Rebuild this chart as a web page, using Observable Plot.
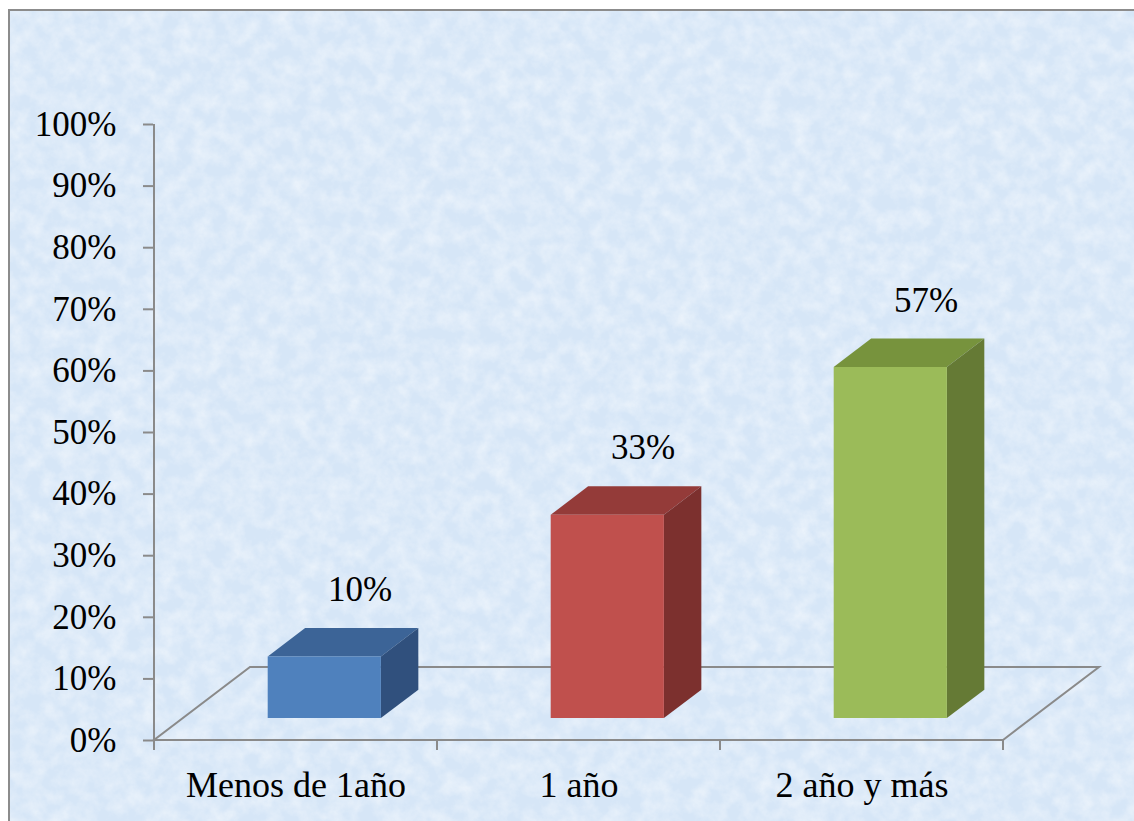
<!DOCTYPE html>
<html>
<head>
<meta charset="utf-8">
<script src="https://cdn.jsdelivr.net/npm/d3@7"></script>
<script src="https://cdn.jsdelivr.net/npm/@observablehq/plot@0.6"></script>
<style>
  html, body { margin: 0; padding: 0; width: 1134px; height: 821px; overflow: hidden; background: #ffffff; }
  #frame { position: absolute; left: 8px; top: 9px; width: 1200px; height: 900px;
           border-left: 2px solid #8c8c8c; border-top: 2px solid #8c8c8c; background: #d8e7f7; overflow: hidden; }
  #bg { position: absolute; left: 0; top: 0; }
  #chart { position: absolute; left: 0; top: 0; }
</style>
</head>
<body>
<div id="frame">
  <svg id="bg" width="1200" height="900">
    <filter id="noise" x="0" y="0" width="100%" height="100%">
      <feTurbulence type="fractalNoise" baseFrequency="0.06" numOctaves="4" seed="7"/>
      <feColorMatrix type="matrix" values="0 0 0 0 1  0 0 0 0 1  0 0 0 0 1  1.4 0 0 0 -0.45"/>
    </filter>
    <rect width="1200" height="900" fill="#d6e6f7"/>
    <rect width="1200" height="900" filter="url(#noise)" opacity="0.6"/>
  </svg>
</div>
<div id="chart"></div>
<script>
// ---- data ----
const categories = ["Menos de 1año", "1 año", "2 año y más"];
const values = [0.10, 0.33, 0.57];
const valueLabels = ["10%", "33%", "57%"];
const yTicks = [0, 0.1, 0.2, 0.3, 0.4, 0.5, 0.6, 0.7, 0.8, 0.9, 1.0];
const frontColors = ["#4f81bd", "#c0504d", "#9bbb59"];
const topColors = ["#3c6497", "#943b39", "#77933d"];
const sideColors = ["#30507d", "#7c302e", "#657a35"];

const data = categories.map((c, i) => ({cat: c, value: values[i], label: valueLabels[i], i}));

// 3D styling constants (pixels / fractions)
const DEPTH = {x: 96, y: -73};
const FRONT = 0.3, BAR_DEPTH = 0.39, BAR_WIDTH = 0.4;
const font = "'Liberation Serif', 'Times New Roman', serif";

function scene(index, scales, vals, dimensions) {
  const x = scales.x, y = scales.y;
  const bw = typeof x.bandwidth === "function" ? x.bandwidth() : x.bandwidth;
  const g = d3.create("svg:g");
  const y0 = y(0);
  const xs = x(categories[0]);
  const xe = x(categories[categories.length - 1]) + bw;
  // floor
  const floor = [[xs, y0], [xe, y0], [xe + DEPTH.x, y0 + DEPTH.y], [xs + DEPTH.x, y0 + DEPTH.y]];
  g.append("path").attr("d", "M" + floor.join("L") + "Z")
    .attr("fill", "none").attr("stroke", "#8a8a8a").attr("stroke-width", 2);
  // y axis line
  g.append("line").attr("x1", xs).attr("x2", xs).attr("y1", y(1)).attr("y2", y0)
    .attr("stroke", "#8a8a8a").attr("stroke-width", 2);
  // x boundary ticks
  for (let k = 0; k <= categories.length; k++) {
    const xx = k < categories.length ? x(categories[k]) : xe;
    g.append("line").attr("x1", xx).attr("x2", xx).attr("y1", y0).attr("y2", y0 + 10)
      .attr("stroke", "#8a8a8a").attr("stroke-width", 2);
  }
  // bars
  const ox = DEPTH.x * BAR_DEPTH, oy = DEPTH.y * BAR_DEPTH;
  data.forEach((d) => {
    const xc = x(d.cat) + bw / 2 + DEPTH.x * FRONT;
    const x1 = xc - bw * BAR_WIDTH / 2, x2 = xc + bw * BAR_WIDTH / 2;
    const yb = y0 + DEPTH.y * FRONT;
    const yt = y(d.value) + DEPTH.y * FRONT;
    const poly = (pts, fill) => g.append("path").attr("d", "M" + pts.join("L") + "Z").attr("fill", fill);
    poly([[x1, yt], [x2, yt], [x2 + ox, yt + oy], [x1 + ox, yt + oy]], topColors[d.i]);
    poly([[x2, yt], [x2 + ox, yt + oy], [x2 + ox, yb + oy], [x2, yb]], sideColors[d.i]);
    poly([[x1, yt], [x2, yt], [x2, yb], [x1, yb]], frontColors[d.i]);
  });
  return g.node();
}

const chart = Plot.plot({
  width: 1134,
  height: 821,
  marginTop: 124,
  marginBottom: 81,
  marginLeft: 153,
  marginRight: 131,
  style: {background: "transparent", fontFamily: font, fontSize: "35px", color: "#000"},
  x: {type: "band", domain: categories, padding: 0},
  y: {domain: [0, 1]},
  marks: [
    scene,
    Plot.axisY({ticks: yTicks, tickFormat: d3.format(".0%"), tickSize: 10, tickPadding: 27,
                stroke: "#8a8a8a", strokeWidth: 2, fill: "#000", fontSize: 35, fontFamily: font, label: null}),
    Plot.axisX({tickSize: 0, tickPadding: 31, fill: "#000", fontSize: 36, fontFamily: font, label: null}),
    Plot.text(data, {x: "cat", y: "value", text: "label", dx: 64, dy: -89, fontSize: 35,
                     fontFamily: font, fill: "#000"})
  ]
});
document.getElementById("chart").appendChild(chart);
</script>
</body>
</html>
